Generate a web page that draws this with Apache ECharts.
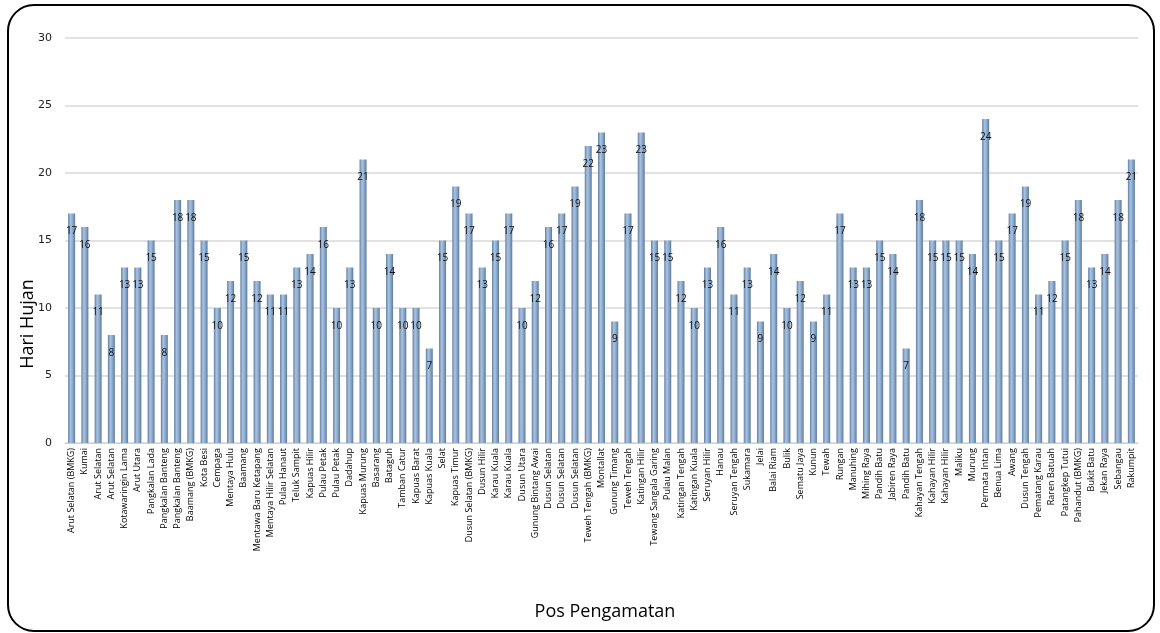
<!DOCTYPE html>
<html>
<head>
<meta charset="utf-8">
<script src="https://cdn.jsdelivr.net/npm/echarts@6/dist/echarts.min.js"></script>
<style>
  html, body { margin: 0; padding: 0; background: #fff; }
  #chart { width: 1160px; height: 633px; }
</style>
</head>
<body>
<div id="chart"></div>
<script>
// Rain-day counts per observation post
const stations = [
  'Arut Selatan (BMKG)', 'Kumai', 'Arut Selatan', 'Arut Selatan', 'Kotawaringin Lama',
  'Arut Utara', 'Pangkalan Lada', 'Pangkalan Banteng', 'Pangkalan Banteng', 'Baamang (BMKG)',
  'Kota Besi', 'Cempaga', 'Mentaya Hulu', 'Baamang', 'Mentawa Baru Ketapang',
  'Mentaya Hilir Selatan', 'Pulau Hanaut', 'Teluk Sampit', 'Kapuas Hilir', 'Pulau Petak',
  'Pulau Petak', 'Dadahup', 'Kapuas Murung', 'Basarang', 'Bataguh',
  'Tamban Catur', 'Kapuas Barat', 'Kapuas Kuala', 'Selat', 'Kapuas Timur',
  'Dusun Selatan (BMKG)', 'Dusun Hilir', 'Karau Kuala', 'Karau Kuala', 'Dusun Utara',
  'Gunung Bintang Awai', 'Dusun Selatan', 'Dusun Selatan', 'Dusun Selatan', 'Teweh Tengah (BMKG)',
  'Montallat', 'Gunung Timang', 'Teweh Tengah', 'Katingan Hilir', 'Tewang Sangala Garing',
  'Pulau Malan', 'Katingan Tengah', 'Katingan Kuala', 'Seruyan Hilir', 'Hanau',
  'Seruyan Tengah', 'Sukamara', 'Jelai', 'Balai Riam', 'Bulik',
  'Sematu Jaya', 'Kunun', 'Tewah', 'Rungan', 'Manuhing',
  'Mihing Raya', 'Pandih Batu', 'Jabiren Raya', 'Pandih Batu', 'Kahayan Tengah',
  'Kahayan Hilir', 'Kahayan Hilir', 'Maliku', 'Murung', 'Permata Intan',
  'Benua Lima', 'Awang', 'Dusun Tengah', 'Pematang Karau', 'Raren Batuah',
  'Patangkep Tutui', 'Pahandut (BMKG)', 'Bukit Batu', 'Jekan Raya', 'Sebangau',
  'Rakumpit'
];

const rainDays = [
  17, 16, 11, 8, 13,
  13, 15, 8, 18, 18,
  15, 10, 12, 15, 12,
  11, 11, 13, 14, 16,
  10, 13, 21, 10, 14,
  10, 10, 7, 15, 19,
  17, 13, 15, 17, 10,
  12, 16, 17, 19, 22,
  23, 9, 17, 23, 15,
  15, 12, 10, 13, 16,
  11, 13, 9, 14, 10,
  12, 9, 11, 17, 13,
  13, 15, 14, 7, 18,
  15, 15, 15, 14, 24,
  15, 17, 19, 11, 12,
  15, 18, 13, 14, 18,
  21
];

const yTicks = { min: 0, max: 30, interval: 5 };

const chart = echarts.init(document.getElementById('chart'), null, { renderer: 'canvas' });

chart.setOption({
  animation: false,
  backgroundColor: '#ffffff',
  grid: { left: 65, right: 22, top: 38, bottom: 190, containLabel: false },
  graphic: [
    {
      type: 'rect',
      shape: { x: 8, y: 5, width: 1146, height: 626, r: 26 },
      style: { fill: 'none', stroke: '#000', lineWidth: 2 },
      z: 100
    },
    {
      type: 'text',
      x: 28, y: 324,
      rotation: Math.PI / 2,
      style: {
        text: 'Hari Hujan',
        font: '18px "Open Sans", sans-serif',
        fill: '#000',
        align: 'center',
        verticalAlign: 'middle'
      }
    },
    {
      type: 'text',
      x: 605, y: 612,
      style: {
        text: 'Pos Pengamatan',
        font: '18px "Open Sans", sans-serif',
        fill: '#000',
        align: 'center',
        verticalAlign: 'middle'
      }
    }
  ],
  xAxis: {
    type: 'category',
    data: stations,
    axisLine: { show: true, lineStyle: { color: '#d0d0d0' } },
    axisTick: { show: false },
    axisLabel: {
      interval: 0,
      rotate: 90,
      fontSize: 9,
      color: '#000',
      fontFamily: '"Open Sans", sans-serif',
      margin: 5
    }
  },
  yAxis: {
    type: 'value',
    min: yTicks.min,
    max: yTicks.max,
    interval: yTicks.interval,
    axisLine: { show: false },
    axisTick: { show: false },
    splitLine: { lineStyle: { color: '#d9d9d9', width: 1.5 } },
    axisLabel: {
      fontSize: 11,
      color: '#222',
      fontFamily: '"DejaVu Sans", sans-serif',
      margin: 13
    }
  },
  series: [{
    type: 'bar',
    data: rainDays,
    barWidth: 7,
    itemStyle: {
      color: new echarts.graphic.LinearGradient(0, 0, 1, 0, [
        { offset: 0, color: '#5f7fa5' },
        { offset: 0.35, color: '#a9c2de' },
        { offset: 0.6, color: '#93afcf' },
        { offset: 1, color: '#5a7aa0' }
      ])
    },
    label: {
      show: true,
      position: 'insideTop',
      distance: 13,
      fontSize: 10,
      color: '#111',
      fontFamily: '"Open Sans", sans-serif'
    }
  }]
});
</script>
</body>
</html>
